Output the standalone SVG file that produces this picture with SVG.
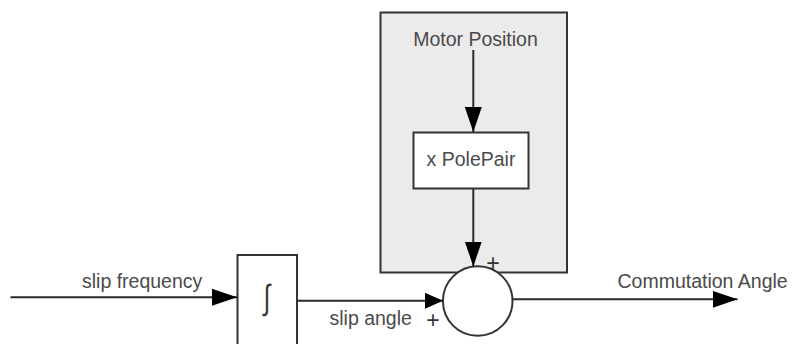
<svg xmlns="http://www.w3.org/2000/svg" width="793" height="344" viewBox="0 0 793 344">
<style>
text{font-family:"Liberation Sans",Arial,sans-serif;font-size:19.5px;fill:#4a4a4a}
.ln{stroke:#2a2a2a;stroke-width:2;fill:none}
.box{fill:#fff;stroke:#333;stroke-width:2}
.grp{fill:#ebebeb;stroke:#333;stroke-width:2}
.pl{font-size:23px;fill:#333}
.int{font-size:24px;fill:#333}
</style>
<defs>
<marker id="ah" markerUnits="userSpaceOnUse" markerWidth="26" markerHeight="18" refX="25" refY="9" orient="auto">
<path d="M0,0.5 L25,9 L0,17.5 Z" fill="#000"/>
</marker>
<marker id="ahs" markerUnits="userSpaceOnUse" markerWidth="19" markerHeight="18" refX="18" refY="8.5" orient="auto">
<path d="M0,0.5 L18,8.5 L0,16.5 Z" fill="#000"/>
</marker>
</defs>
<g id="group-box">
<rect class="grp" x="380.5" y="12.5" width="186.5" height="260"/>
</g>
<g id="motor-position">
<text x="475.5" y="46" text-anchor="middle">Motor Position</text>
</g>
<g id="polepair">
<rect class="box" x="413.5" y="132.5" width="115" height="56"/>
<text x="471" y="166" text-anchor="middle">x PolePair</text>
</g>
<g id="integrator">
<rect class="box" x="237.5" y="255" width="59.5" height="110"/>
<text class="int" transform="translate(267,309) scale(1,1.45)" x="0" y="0" text-anchor="middle">∫</text>
</g>
<g id="sum">
<circle cx="477.7" cy="301" r="34.8" fill="#fff" stroke="#333" stroke-width="2"/>
<text class="pl" x="493" y="271" text-anchor="middle">+</text>
<text class="pl" x="433" y="328" text-anchor="middle">+</text>
</g>
<g id="connectors">
<line class="ln" x1="473.3" y1="50" x2="473.3" y2="132" marker-end="url(#ah)"/>
<line class="ln" x1="473.3" y1="189" x2="473.3" y2="266.5" marker-end="url(#ah)"/>
<line class="ln" x1="10.5" y1="297.3" x2="237" y2="297.3" marker-end="url(#ah)"/>
<line class="ln" x1="297" y1="300.7" x2="443" y2="300.7" marker-end="url(#ahs)"/>
<line class="ln" x1="512.5" y1="299.3" x2="737.5" y2="299.3" marker-end="url(#ah)"/>
</g>
<g id="labels">
<text x="82" y="288">slip frequency</text>
<text x="329.5" y="325">slip angle</text>
<text x="617.5" y="287.5">Commutation Angle</text>
</g>
</svg>
